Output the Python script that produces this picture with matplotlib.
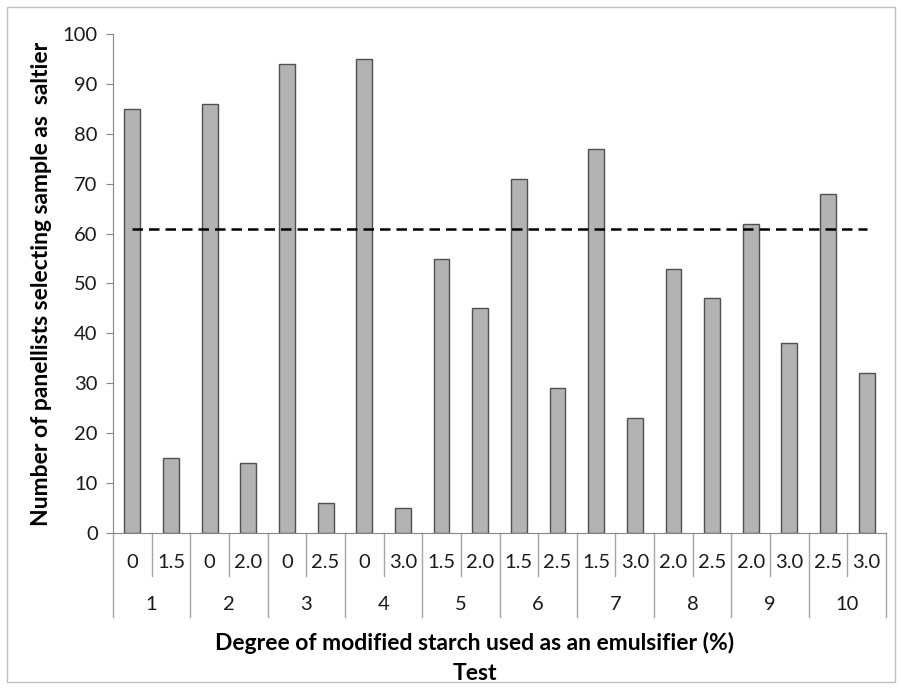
import matplotlib
matplotlib.use("Agg")
import matplotlib.pyplot as plt
from matplotlib.patches import Rectangle

plt.rcParams['font.family'] = ['Lato', 'DejaVu Sans']

# Data
tests = ["1", "2", "3", "4", "5", "6", "7", "8", "9", "10"]
degrees = ["0", "1.5", "0", "2.0", "0", "2.5", "0", "3.0", "1.5", "2.0",
           "1.5", "2.5", "1.5", "3.0", "2.0", "2.5", "2.0", "3.0", "2.5", "3.0"]
panellists = [85, 15, 86, 14, 94, 6, 95, 5, 55, 45,
              71, 29, 77, 23, 53, 47, 62, 38, 68, 32]
threshold = 61

fig = plt.figure(figsize=(9.02, 6.89), dpi=100)
ax = fig.add_axes([0.1253, 0.2264, 0.857, 0.7243])

x = list(range(len(panellists)))
ax.bar(x, panellists, width=0.41, color="#b3b3b3", edgecolor="#505050", linewidth=1.0, zorder=2)
ax.plot(x, [threshold] * len(x), color="black", linestyle="--", linewidth=1.8,
        dashes=(4.2, 2.4), zorder=3)

ax.set_xlim(-0.5, len(x) - 0.5)
ax.set_ylim(0, 100)
ax.set_yticks(range(0, 101, 10))
ax.tick_params(axis="y", direction="out", length=5, color="#868686", labelsize=14.5,
               labelcolor="#1a1a1a", pad=6)
ax.set_xticks([])

for s in ["top", "right"]:
    ax.spines[s].set_visible(False)
ax.spines["left"].set_color("#868686")
ax.spines["bottom"].set_color("#868686")

# two-level category axis
trans = ax.get_xaxis_transform()
for i, d in enumerate(degrees):
    ax.text(i, -0.060, d, transform=trans, ha="center", va="center", fontsize=14.5, color="#1a1a1a")
for k in range(len(x) + 1):
    bottom = -0.168 if k % 2 == 0 else -0.086
    ax.plot([k - 0.5, k - 0.5], [0, bottom], transform=trans, color="#a6a6a6",
            linewidth=1.0, clip_on=False)
for j, t in enumerate(tests):
    ax.text(2 * j + 0.5, -0.144, t, transform=trans, ha="center", va="center",
            fontsize=14.5, color="#1a1a1a")

ax.set_ylabel("Number of panellists selecting sample as  saltier", fontsize=16.5,
              fontweight="bold", labelpad=8)
fig.text(0.5266, 1 - 643 / 689, "Degree of modified starch used as an emulsifier (%)",
         ha="center", va="center", fontsize=16.5, fontweight="bold")
fig.text(0.5266, 1 - 673 / 689, "Test", ha="center", va="center", fontsize=16.5,
         fontweight="bold")

# chart area border
fig.patches.append(Rectangle((7 / 902, 7 / 689), 888 / 902, 675 / 689,
                             transform=fig.transFigure, fill=False,
                             edgecolor="#bfbfbf", linewidth=1.0))

fig.savefig("out.png", dpi=100)
